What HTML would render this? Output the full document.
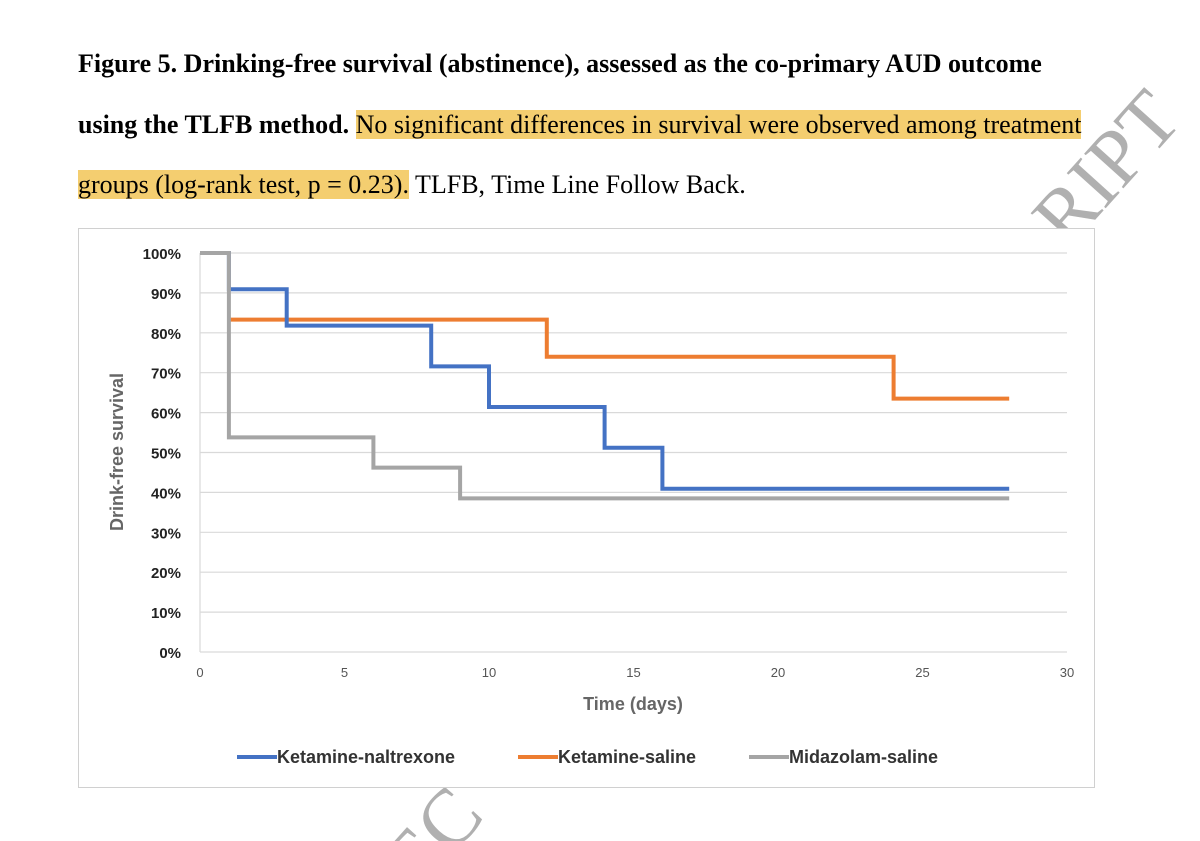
<!DOCTYPE html>
<html><head><meta charset="utf-8"><style>
html,body{margin:0;width:1200px;height:841px;overflow:hidden}
body{background:#fff;position:relative;font-family:"Liberation Serif",serif}
.t{position:absolute;left:78px;font-size:26px;color:#000;white-space:nowrap;z-index:2}
.hl{background:#f4ce70}
svg text{font-family:"Liberation Sans",sans-serif}
</style></head><body>
<svg id="c" width="1200" height="841" style="position:absolute;left:0;top:0;overflow:hidden">
<text x="1068" y="250" font-size="80" fill="#b0b0b0" transform="rotate(-48 1068 250)" style="font-family:'Liberation Serif',serif">RIPT</text>
<text x="390" y="870" font-size="80" fill="#b0b0b0" transform="rotate(-48 430 850)" style="font-family:'Liberation Serif',serif">EC</text>
<rect x="78.5" y="228.5" width="1016" height="559" fill="#fff" stroke="#d0d0d0"/>
</svg>
<div class="t" style="top:49px"><b>Figure 5. Drinking-free survival (abstinence), assessed as the co-primary AUD outcome</b></div>
<div class="t" style="top:110px"><b>using the TLFB method.</b> <span class="hl">No significant differences in survival were observed among treatment</span></div>
<div class="t" style="top:170px"><span class="hl">groups (log-rank test, p = 0.23).</span> TLFB, Time Line Follow Back.</div>
<script>
const xTicks=[0,5,10,15,20,25,30];
const yTicks=[0,10,20,30,40,50,60,70,80,90,100];
const seriesNames=["Ketamine-naltrexone","Ketamine-saline","Midazolam-saline"];
const colors=["#4472c4","#ed7d31","#a5a5a5"];
const ktnTimes=[0,1,3,8,10,14,16,28];
const ktnVals=[100,90.9,81.8,71.6,61.4,51.2,40.9,40.9];
const kssTimes=[1,12,24,28];
const kssVals=[83.3,74,63.5,63.5];
const mzsTimes=[0,1,6,9,28];
const mzsVals=[100,53.8,46.2,38.5,38.5];
const X=v=>200+v*(1067-200)/30, Y=v=>652-v*(652-253)/100;
const svg=document.getElementById('c'),NS="http://www.w3.org/2000/svg";
function mk(t,a,txt){const e=document.createElementNS(NS,t);for(const k in a)e.setAttribute(k,a[k]);if(txt!=null)e.textContent=txt;svg.appendChild(e);return e;}
yTicks.forEach(v=>{
 const g=mk('line',{x1:200,x2:1067,y1:Y(v),y2:Y(v),stroke:'#d9d9d9','stroke-width':1.2});
 
 
 const t=mk('text',{x:181,y:Y(v)+6,'text-anchor':'end','font-size':15,'font-weight':'bold',fill:'#222'},v+'%');
 
 
});
const ax=mk('line',{x1:200,x2:200,y1:253,y2:652,stroke:'#d9d9d9','stroke-width':1.2});


xTicks.forEach(v=>{
 const t=mk('text',{x:X(v),y:677,'text-anchor':'middle','font-size':13,fill:'#555'},v);
 
 
});
const xt=mk('text',{x:633,y:710,'text-anchor':'middle','font-size':18,'font-weight':'bold',fill:'#666'},'Time (days)');


const yt=mk('text',{x:0,y:0,'text-anchor':'middle','font-size':18,'font-weight':'bold',fill:'#666',transform:'translate(123,452) rotate(-90)'},'Drink-free survival');


function step(ts,vs){let d='M'+X(ts[0])+' '+Y(vs[0]);for(let i=1;i<ts.length;i++){d+=' H'+X(ts[i])+' V'+Y(vs[i]);}return d;}
[[kssTimes,kssVals,1],[ktnTimes,ktnVals,0],[mzsTimes,mzsVals,2]].forEach(([ts,vs,i])=>{
 const p=mk('path',{d:step(ts,vs),fill:'none',stroke:colors[i],'stroke-width':4});
 
 
});
const lx=[237,518,749];
seriesNames.forEach((n,i)=>{
 const l=mk('line',{x1:lx[i],x2:lx[i]+40,y1:757,y2:757,stroke:colors[i],'stroke-width':4});
 
 
 const t=mk('text',{x:lx[i]+40,y:763,'font-size':18,'font-weight':'bold',fill:'#333'},n);
 
 
});
</script>
</body></html>
